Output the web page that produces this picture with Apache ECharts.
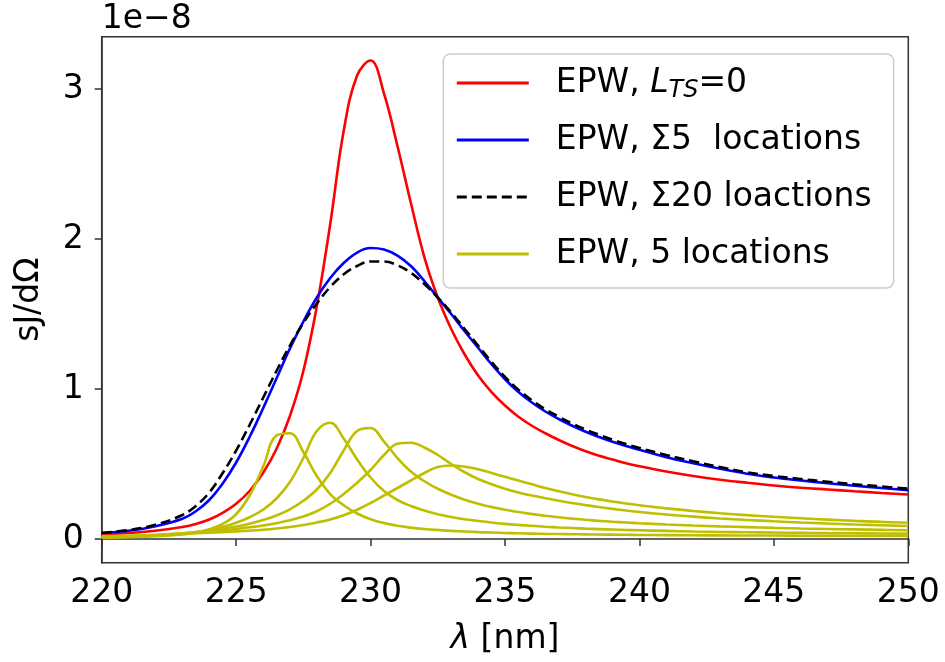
<!DOCTYPE html>
<html><head><meta charset="utf-8">
<script src="https://cdn.jsdelivr.net/npm/echarts@6/dist/echarts.min.js"></script>
<style>html,body{margin:0;padding:0;background:#fff}#c{width:945px;height:662px}</style>
</head><body><div id="c"></div>
<script>
// wavelength grid (nm)
const wavelength = [220,221,222,223,223.5,224,224.5,225,225.5,226,226.5,227,227.5,228,228.5,229,229.5,230,230.5,231,231.5,232,232.5,233,233.5,234,234.5,235,235.5,236,236.5,237,237.5,238,238.5,239,239.5,240,241,242,243,244,245,246,247,248,249,250];
// values in units of 1e-8
const ltsZero = [0.03,0.04,0.055,0.08,0.10,0.13,0.175,0.235,0.32,0.44,0.60,0.82,1.12,1.55,2.10,2.72,3.09,3.19,2.97,2.62,2.24,1.88,1.61,1.40,1.23,1.09,0.98,0.89,0.815,0.755,0.705,0.66,0.62,0.585,0.555,0.53,0.505,0.485,0.45,0.42,0.395,0.375,0.357,0.342,0.33,0.318,0.307,0.297];
const sum5 = [0.04,0.055,0.085,0.135,0.185,0.26,0.37,0.51,0.68,0.87,1.07,1.27,1.45,1.61,1.74,1.84,1.91,1.94,1.93,1.89,1.82,1.72,1.61,1.50,1.385,1.275,1.165,1.065,0.98,0.91,0.85,0.80,0.755,0.715,0.68,0.648,0.62,0.595,0.545,0.505,0.468,0.435,0.41,0.39,0.372,0.355,0.34,0.325];
const sum20 = [0.04,0.06,0.095,0.16,0.22,0.31,0.44,0.59,0.76,0.94,1.12,1.29,1.44,1.57,1.68,1.765,1.82,1.85,1.85,1.825,1.775,1.70,1.61,1.51,1.40,1.29,1.18,1.08,0.995,0.925,0.865,0.815,0.77,0.73,0.695,0.662,0.633,0.607,0.56,0.518,0.48,0.445,0.42,0.40,0.382,0.365,0.35,0.335];
const loc1 = [0.008,0.012,0.018,0.03,0.042,0.065,0.1,0.165,0.29,0.48,0.69,0.705,0.58,0.42,0.30,0.225,0.17,0.132,0.106,0.088,0.076,0.067,0.06,0.054,0.05,0.046,0.043,0.04,0.038,0.036,0.034,0.033,0.032,0.031,0.030,0.029,0.028,0.027,0.026,0.025,0.024,0.023,0.023,0.022,0.022,0.021,0.021,0.02];
const loc2 = [0.01,0.015,0.022,0.035,0.046,0.06,0.08,0.108,0.145,0.195,0.27,0.38,0.54,0.72,0.775,0.67,0.53,0.41,0.32,0.26,0.22,0.19,0.165,0.147,0.132,0.12,0.11,0.101,0.094,0.088,0.082,0.077,0.073,0.069,0.066,0.063,0.06,0.058,0.054,0.05,0.047,0.045,0.043,0.041,0.039,0.038,0.037,0.036];
const loc3 = [0.012,0.018,0.026,0.038,0.046,0.056,0.068,0.083,0.102,0.126,0.157,0.198,0.255,0.33,0.44,0.59,0.72,0.74,0.65,0.54,0.45,0.385,0.335,0.295,0.262,0.235,0.213,0.195,0.18,0.166,0.155,0.145,0.136,0.128,0.121,0.115,0.11,0.105,0.097,0.09,0.084,0.079,0.074,0.07,0.067,0.064,0.061,0.058];
const loc4 = [0.015,0.02,0.027,0.037,0.043,0.05,0.058,0.067,0.078,0.09,0.105,0.125,0.15,0.185,0.235,0.30,0.375,0.46,0.56,0.635,0.642,0.61,0.56,0.50,0.445,0.40,0.365,0.335,0.31,0.29,0.272,0.255,0.24,0.226,0.213,0.201,0.19,0.18,0.163,0.149,0.137,0.127,0.118,0.11,0.103,0.097,0.092,0.087];
const loc5 = [0.018,0.022,0.027,0.034,0.038,0.042,0.046,0.051,0.056,0.062,0.07,0.08,0.093,0.11,0.13,0.158,0.195,0.24,0.29,0.34,0.39,0.44,0.48,0.49,0.482,0.465,0.44,0.415,0.39,0.365,0.34,0.318,0.298,0.28,0.264,0.25,0.237,0.225,0.204,0.187,0.172,0.159,0.148,0.138,0.129,0.121,0.114,0.108];
const xTicks = [220,225,230,235,240,245,250];
const yTicks = [0,1,2,3];
const legendNames = ['EPW, L_TS=0','EPW, \u03a35  locations','EPW, \u03a320 loactions','EPW, 5 locations'];

const FONT = 'DejaVu Sans';
const pair = arr => wavelength.map((x,i)=>[x, arr[i]]);
const base = {type:'line', symbol:'none', smooth:0.4, animation:false, silent:true};
const series = [
  Object.assign({}, base, {name:legendNames[0], data:pair(ltsZero), lineStyle:{color:'#ff0000', width:2.6}, itemStyle:{color:'#ff0000'}}),
  Object.assign({}, base, {name:legendNames[1], data:pair(sum5), lineStyle:{color:'#0000ff', width:2.6}, itemStyle:{color:'#0000ff'}}),
  Object.assign({}, base, {name:legendNames[2], data:pair(sum20), lineStyle:{color:'#000000', width:2.6, type:[10,5]}, itemStyle:{color:'#000000'}})
];
[loc1,loc2,loc3,loc4,loc5].forEach(arr=>{
  series.push(Object.assign({}, base, {name:legendNames[3], data:pair(arr), lineStyle:{color:'#bfbf00', width:2.6}, itemStyle:{color:'#bfbf00'}}));
});

const axisCol = '#333';
const chart = echarts.init(document.getElementById('c'), null, {renderer:'canvas'});
chart.setOption({
  animation:false,
  backgroundColor:'#fff',
  grid:{left:101.7, top:36.7, right:36.7, bottom:99.3, show:true, borderColor:axisCol, borderWidth:1.5, backgroundColor:'transparent', containLabel:false, outerBoundsMode:'none'},
  xAxis:{
    type:'value', min:xTicks[0], max:xTicks[xTicks.length-1], interval:5,
    splitLine:{show:false},
    axisLine:{lineStyle:{color:axisCol, width:1.5}},
    axisTick:{length:7, lineStyle:{color:axisCol, width:1.5}},
    axisLabel:{fontSize:33, fontFamily:FONT, color:'#000', margin:14, showMinLabel:true, showMaxLabel:true},
    name:'{i|\u03bb} [nm]', nameLocation:'middle', nameGap:60,
    nameTextStyle:{fontSize:33, fontFamily:FONT, color:'#000', rich:{i:{fontSize:33, fontFamily:FONT, fontStyle:'italic', color:'#000'}}}
  },
  yAxis:{
    type:'value', min:-0.158, max:3.349,
    splitLine:{show:false},
    axisLine:{show:true, lineStyle:{color:axisCol, width:1.5}},
    axisTick:{show:true, length:7, customValues:yTicks, lineStyle:{color:axisCol, width:1.5}},
    axisLabel:{fontSize:33, fontFamily:FONT, color:'#000', margin:18, customValues:yTicks, formatter:v=>String(Math.round(v))},
    name:'sJ/d\u03a9', nameLocation:'middle', nameGap:56, nameRotate:90,
    nameTextStyle:{fontSize:33, fontFamily:FONT, color:'#000'}
  },
  legend:{
    orient:'vertical', left:443.3, top:54, padding:[9,22,14,12], itemGap:17,
    itemWidth:72, itemHeight:4, selectedMode:false,
    backgroundColor:'rgba(255,255,255,0.8)', borderColor:'#cccccc', borderWidth:1.5, borderRadius:7,
    data:legendNames,
    itemStyle:{color:'transparent', borderColor:'transparent', borderWidth:0, opacity:0},
    lineStyle:{width:3},
    formatter:function(name){
      if (name === legendNames[0]) return '{g|}{t|EPW, }{it|L}{sub|TS}{t|=0}';
      return '{g|}{t|' + name + '}';
    },
    textStyle:{fontSize:33, fontFamily:FONT, color:'#000', lineHeight:40,
      rich:{
        g:{width:22, lineHeight:40},
        t:{fontSize:33, fontFamily:FONT, color:'#000', lineHeight:40},
        it:{fontSize:33, fontFamily:FONT, fontStyle:'italic', color:'#000', lineHeight:40},
        sub:{fontSize:24, fontFamily:FONT, fontStyle:'italic', color:'#000', lineHeight:24, verticalAlign:'bottom'}
      }}
  },
  graphic:[{type:'text', left:101.7, top:3, silent:true,
    style:{text:'1e\u22128', font:'33px "DejaVu Sans"', fill:'#000'}}],
  series:series
});
</script></body></html>
